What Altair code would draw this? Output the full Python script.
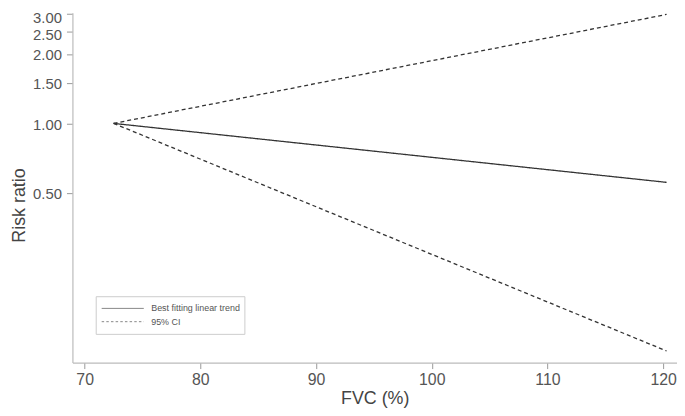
import altair as alt
import pandas as pd

# Data
fvc = [72.5, 120.3]
estimate = [1.0, 0.555]
ci_upper = [1.0, 2.97]
ci_lower = [1.0, 0.103]

x_ticks = [70, 80, 90, 100, 110, 120]
y_ticks = [0.5, 1.0, 1.5, 2.0, 2.5, 3.0]

trend_label = "Best fitting linear trend"
ci_label = "95% CI"

rows = []
for name, vals, kind in [("est", estimate, trend_label),
                         ("upper", ci_upper, ci_label),
                         ("lower", ci_lower, ci_label)]:
    for xv, yv in zip(fvc, vals):
        rows.append({"line": name, "type": kind, "fvc": xv, "rr": yv})
df = pd.DataFrame(rows)

FONT = "Liberation Sans"

lines = alt.Chart(df).mark_line(color="#333333", strokeWidth=1.3).encode(
    x=alt.X("fvc:Q",
            scale=alt.Scale(domain=[68.94, 121.2], nice=False, zero=False),
            axis=alt.Axis(values=x_ticks, title="FVC (%)", format="d",
                          titleBaseline="alphabetic", titleY=41,
                          labelFontSize=16)),
    y=alt.Y("rr:Q",
            scale=alt.Scale(type="log", domain=[0.0917, 3.02], nice=False),
            axis=alt.Axis(values=y_ticks, title="Risk ratio", format=".2f",
                          titleBaseline="alphabetic", titleY=194, titleX=-48,
                          labelFontSize=15, labelPadding=5,
                          labelOverlap=False,
                          labelOffset={"condition": [
                              {"test": "datum.value > 2.9", "value": 4},
                              {"test": "datum.value > 2.4", "value": 3}],
                              "value": 1})),
    detail="line:N",
    strokeDash=alt.StrokeDash(
        "type:N",
        scale=alt.Scale(domain=[trend_label, ci_label], range=[[1, 0], [4, 3]]),
        legend=None,
    ),
)

# Legend drawn as a small box in the lower-left of the plot
one = pd.DataFrame({"k": [0]})
legend_box = alt.Chart(one).mark_rect(
    fill="white", stroke="#cccccc", strokeWidth=1
).encode(x=alt.value(24), x2=alt.value(174), y=alt.value(286.5), y2=alt.value(324.5))

leg_solid = alt.Chart(one).mark_rule(color="#888888", strokeWidth=1).encode(
    x=alt.value(29.5), x2=alt.value(72), y=alt.value(298.3))
leg_dash = alt.Chart(one).mark_rule(color="#888888", strokeWidth=1,
                                    strokeDash=[2.5, 2.2]).encode(
    x=alt.value(29.5), x2=alt.value(72), y=alt.value(311.7))
leg_text1 = alt.Chart(one).mark_text(
    align="left", baseline="middle", font=FONT, fontSize=9, color="#555555"
).encode(x=alt.value(79.5), y=alt.value(298.3), text=alt.value(trend_label))
leg_text2 = alt.Chart(one).mark_text(
    align="left", baseline="middle", font=FONT, fontSize=9, color="#555555"
).encode(x=alt.value(79.5), y=alt.value(311.7), text=alt.value(ci_label))

chart = alt.layer(
    lines, legend_box, leg_solid, leg_dash, leg_text1, leg_text2
).properties(
    width=610, height=353,
    autosize=alt.AutoSizeParams(type="none"),
    padding={"left": 65, "top": 3, "right": 0, "bottom": 44},
).configure_view(stroke=None).configure_axis(
    grid=False,
    domainColor="#bbbbbb",
    domainWidth=1.2,
    tickColor="#999999",
    tickSize=6,
    labelFont=FONT,
    labelColor="#555555",
    labelPadding=3,
    titleFont=FONT,
    titleFontSize=18,
    titleFontWeight="normal",
    titleColor="#444444",
)

chart.save("out.html", embed_options={"renderer": "svg", "actions": False})
